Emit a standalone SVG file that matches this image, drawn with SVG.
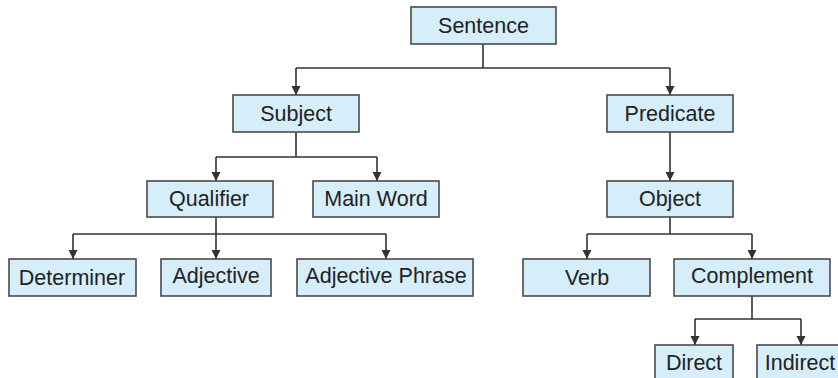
<svg xmlns="http://www.w3.org/2000/svg" width="838" height="378" viewBox="0 0 838 378">
<defs>
<marker id="arr" markerWidth="9" markerHeight="10" refX="9" refY="4.5" orient="auto" markerUnits="userSpaceOnUse">
<path d="M0,0 L9,4.5 L0,9 z" fill="#333"/>
</marker>
<style>
.box{fill:#d6eefa;stroke:#4a4a4a;stroke-width:1.6}
.lbl{font-family:"Liberation Sans",Arial,sans-serif;font-size:21.5px;fill:#222;text-anchor:middle}
.ln{fill:none;stroke:#333;stroke-width:1.6}
.ar{fill:none;stroke:#333;stroke-width:1.6;marker-end:url(#arr)}
</style>
</defs>
<rect width="838" height="378" fill="#fff"/>
<g id="connectors">
<path class="ln" d="M483,44 V68 M296,68 H670"/>
<path class="ar" d="M296,68 V95"/>
<path class="ar" d="M670,68 V95"/>
<path class="ln" d="M296,132 V157 M216,157 H377"/>
<path class="ar" d="M216,157 V181"/>
<path class="ar" d="M377,157 V181"/>
<path class="ar" d="M670,132 V181"/>
<path class="ln" d="M216,217 V234 M73,234 H386"/>
<path class="ar" d="M73,234 V259"/>
<path class="ar" d="M216,234 V259"/>
<path class="ar" d="M386,234 V259"/>
<path class="ln" d="M670,217 V234 M587,234 H752"/>
<path class="ar" d="M587,234 V259"/>
<path class="ar" d="M752,234 V259"/>
<path class="ln" d="M752,296 V319 M695,319 H801"/>
<path class="ar" d="M695,319 V345"/>
<path class="ar" d="M801,319 V345"/>
</g>
<g id="sentence"><rect class="box" x="411" y="7" width="145" height="37"/><text class="lbl" x="483.5" y="33">Sentence</text></g>
<g id="subject"><rect class="box" x="233" y="95" width="126" height="37"/><text class="lbl" x="296" y="121">Subject</text></g>
<g id="predicate"><rect class="box" x="607" y="95" width="126" height="37"/><text class="lbl" x="670" y="121">Predicate</text></g>
<g id="qualifier"><rect class="box" x="147" y="181" width="126" height="36"/><text class="lbl" x="209" y="206">Qualifier</text></g>
<g id="mainword"><rect class="box" x="313" y="181" width="126" height="36"/><text class="lbl" x="376" y="206">Main Word</text></g>
<g id="object"><rect class="box" x="607" y="181" width="126" height="36"/><text class="lbl" x="670" y="206">Object</text></g>
<g id="determiner"><rect class="box" x="9" y="259" width="127" height="37"/><text class="lbl" x="72" y="285">Determiner</text></g>
<g id="adjective"><rect class="box" x="161" y="259" width="110" height="37"/><text class="lbl" x="216" y="283">Adjective</text></g>
<g id="adjphrase"><rect class="box" x="297" y="259" width="176" height="37"/><text class="lbl" x="386" y="283">Adjective Phrase</text></g>
<g id="verb"><rect class="box" x="523" y="259" width="127" height="37"/><text class="lbl" x="587" y="285">Verb</text></g>
<g id="complement"><rect class="box" x="674" y="259" width="156" height="37"/><text class="lbl" x="752" y="283">Complement</text></g>
<g id="direct"><rect class="box" x="655" y="345" width="78" height="40"/><text class="lbl" x="694" y="370">Direct</text></g>
<g id="indirect"><rect class="box" x="757" y="345" width="90" height="40"/><text class="lbl" x="800" y="370">Indirect</text></g>
</svg>
